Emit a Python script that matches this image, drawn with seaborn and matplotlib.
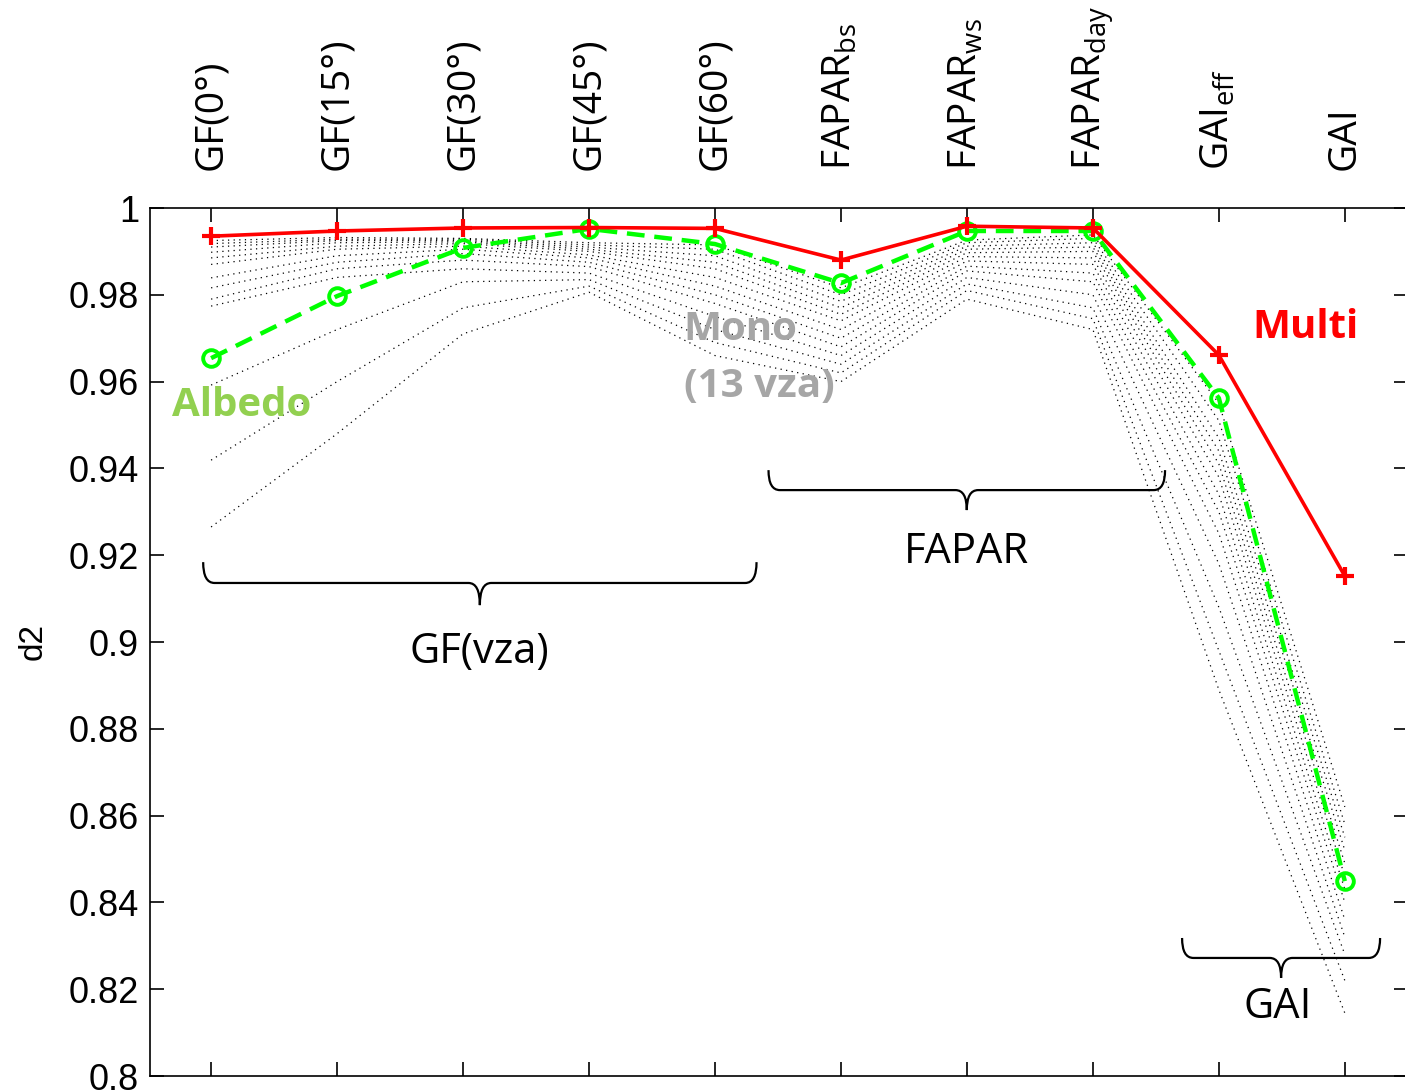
import numpy as np
import pandas as pd
import matplotlib
matplotlib.use("Agg")
import matplotlib.pyplot as plt
from matplotlib.path import Path
from matplotlib.patches import PathPatch
import seaborn as sns

# --- Data ---
variables = [r"GF(0°)", r"GF(15°)", r"GF(30°)", r"GF(45°)", r"GF(60°)",
             r"FAPAR$_{\mathrm{bs}}$", r"FAPAR$_{\mathrm{ws}}$", r"FAPAR$_{\mathrm{day}}$",
             r"GAI$_{\mathrm{eff}}$", r"GAI"]
positions = np.arange(1, len(variables) + 1)

multi = [0.9935, 0.9947, 0.9954, 0.9955, 0.9953, 0.9880, 0.9958, 0.9954, 0.9661, 0.9152]
albedo = [0.9654, 0.9797, 0.9908, 0.9952, 0.9917, 0.9827, 0.9947, 0.9947, 0.9562, 0.8449]

# 13 mono-angle configurations (dotted lines)
mono = [
    [0.9925, 0.9932, 0.9930, 0.9920, 0.9915, 0.9816, 0.9926, 0.9938, 0.955, 0.862],
    [0.9918, 0.9928, 0.9928, 0.9915, 0.9905, 0.9800, 0.9920, 0.9930, 0.951, 0.858],
    [0.9910, 0.9925, 0.9925, 0.9910, 0.9890, 0.9785, 0.9912, 0.9920, 0.947, 0.855],
    [0.9898, 0.9920, 0.9922, 0.9905, 0.9875, 0.9770, 0.9905, 0.9910, 0.944, 0.852],
    [0.9885, 0.9912, 0.9918, 0.9900, 0.9860, 0.9755, 0.9897, 0.9900, 0.941, 0.849],
    [0.9870, 0.9905, 0.9912, 0.9892, 0.9840, 0.9740, 0.9888, 0.9885, 0.938, 0.846],
    [0.9839, 0.9890, 0.9905, 0.9885, 0.9820, 0.9720, 0.9878, 0.9870, 0.934, 0.843],
    [0.9816, 0.9875, 0.9895, 0.9875, 0.9800, 0.9700, 0.9866, 0.9850, 0.930, 0.840],
    [0.9790, 0.9860, 0.9880, 0.9865, 0.9780, 0.9680, 0.9855, 0.9830, 0.925, 0.836],
    [0.9774, 0.9840, 0.9860, 0.9850, 0.9750, 0.9660, 0.9840, 0.9800, 0.918, 0.832],
    [0.9592, 0.9720, 0.9830, 0.9835, 0.9720, 0.9640, 0.9825, 0.9770, 0.908, 0.828],
    [0.9419, 0.9600, 0.9770, 0.9820, 0.9690, 0.9620, 0.9810, 0.9745, 0.898, 0.822],
    [0.9265, 0.9480, 0.9710, 0.9806, 0.9660, 0.9600, 0.9790, 0.9720, 0.889, 0.8145],
]

yticks = [0.8, 0.82, 0.84, 0.86, 0.88, 0.9, 0.92, 0.94, 0.96, 0.98, 1.0]
ytick_labels = ["0.8", "0.82", "0.84", "0.86", "0.88", "0.9", "0.92", "0.94", "0.96", "0.98", "1"]

# --- Style ---
sns.set_style("white")
plt.rcParams["font.family"] = ["Open Sans", "DejaVu Sans"]
plt.rcParams["mathtext.fontset"] = "custom"
plt.rcParams["mathtext.rm"] = "Open Sans"
plt.rcParams["mathtext.it"] = "Open Sans:italic"
for key in ["text.color", "axes.labelcolor", "xtick.color", "ytick.color"]:
    plt.rcParams[key] = "black"

fig = plt.figure(figsize=(14.05, 10.92), dpi=100)
ax = fig.add_axes([150 / 1405, 1 - 1076 / 1092, 1 - 150 / 1405 + 0.002, (1076 - 208) / 1092])

mono_df = pd.DataFrame(
    [(i, p, v) for i, row in enumerate(mono) for p, v in zip(positions, row)],
    columns=["vza", "pos", "d2"],
)
sns.lineplot(data=mono_df, x="pos", y="d2", units="vza", estimator=None,
             color="black", linestyle=(0, (1, 3.5)), linewidth=0.9, ax=ax)

sns.lineplot(x=positions, y=albedo, color="#00FF00", linestyle="--", linewidth=3.2,
             marker="o", markersize=12, markerfacecolor="none",
             markeredgecolor="#00FF00", markeredgewidth=2.8, ax=ax)
ax.lines[-1].set_dashes((4, 2.2))
sns.lineplot(x=positions, y=multi, color="#FF0000", linewidth=2.6,
             marker="+", markersize=13, markeredgecolor="#FF0000",
             markeredgewidth=3, ax=ax)

ax.set_xlim(0.515, 10.5)
ax.set_ylim(0.8, 1.0)
ax.set_yticks(yticks)
ax.set_yticklabels(ytick_labels, family="Liberation Sans", fontsize=26)
ax.set_xticks(positions)
ax.set_xticklabels(variables, rotation=90, fontsize=28)
ax.xaxis.tick_top()
ax.tick_params(axis="x", which="both", top=True, bottom=True, direction="in",
               length=10, width=1.2, pad=27, labeltop=True, labelbottom=False)
ax.tick_params(axis="y", which="both", left=True, right=True, direction="in",
               length=10, width=1.2, pad=8)
ax.set_xlabel("")
ax.set_ylabel("d2", family="Liberation Sans", fontsize=24, labelpad=14)
for s in ax.spines.values():
    s.set_color("black")
    s.set_linewidth(1.2)


def brace(x0, x1, y_top, y_line, y_tip, r=0.09):
    xm = (x0 + x1) / 2
    verts = [(x0, y_top), (x0, y_line), (x0 + r, y_line),
             (xm - r, y_line), (xm, y_line), (xm, y_tip),
             (xm, y_line), (xm + r, y_line),
             (x1 - r, y_line), (x1, y_line), (x1, y_top)]
    codes = [Path.MOVETO, Path.CURVE3, Path.CURVE3,
             Path.LINETO, Path.CURVE3, Path.CURVE3,
             Path.CURVE3, Path.CURVE3,
             Path.LINETO, Path.CURVE3, Path.CURVE3]
    ax.add_patch(PathPatch(Path(verts, codes), fill=False, edgecolor="black",
                           linewidth=1.6, clip_on=False))


brace(0.937, 5.33, 0.9184, 0.9136, 0.9085)
brace(5.425, 8.573, 0.9396, 0.9350, 0.9304)
brace(8.708, 10.28, 0.8318, 0.8272, 0.8226)

ax.text(3.13, 0.8977, "GF(vza)", ha="center", va="center", fontsize=30)
ax.text(7.0, 0.9207, "FAPAR", ha="center", va="center", fontsize=30)
ax.text(9.47, 0.8159, "GAI", ha="center", va="center", fontsize=30)

ax.text(1.246, 0.9544, "Albedo", ha="center", va="center", fontsize=29,
        fontweight="bold", color="#92D050")
ax.text(4.751, 0.9719, "Mono", ha="left", va="center", fontsize=29,
        fontweight="bold", color="#A6A6A6")
ax.text(4.751, 0.9588, "(13 vza)", ha="left", va="center", fontsize=29,
        fontweight="bold", color="#A6A6A6")
ax.text(9.69, 0.9724, "Multi", ha="center", va="center", fontsize=29,
        fontweight="bold", color="#FF0000")

fig.savefig("out.png", dpi=100)
